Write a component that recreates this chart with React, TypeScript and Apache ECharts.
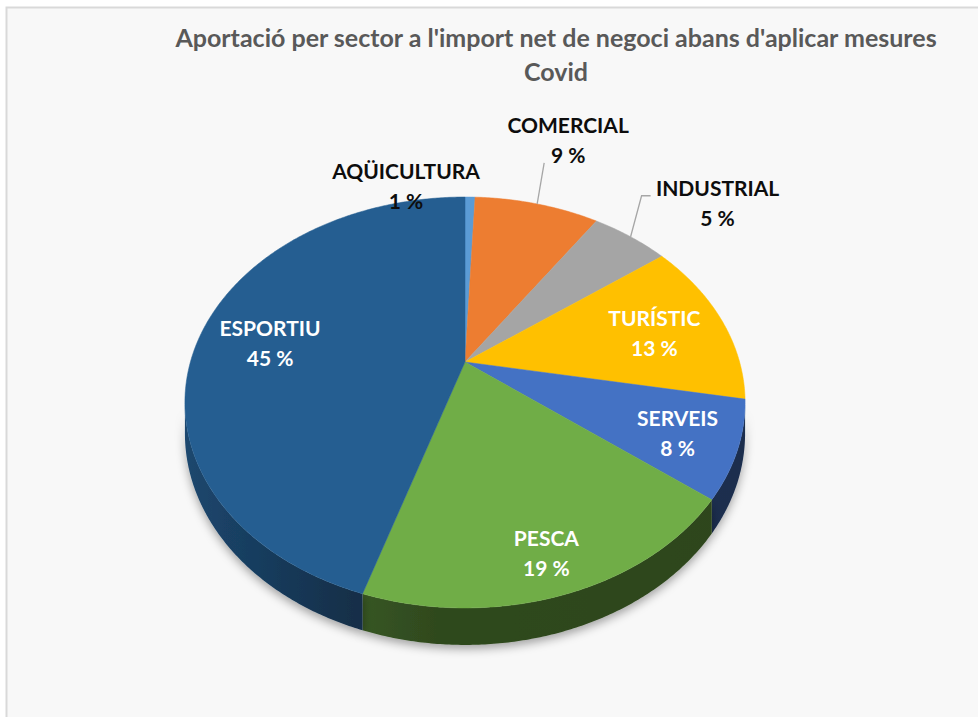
import React, { useEffect, useRef } from "react";
import * as echarts from "echarts";

// ---- data ----
const categories = ["AQÜICULTURA", "COMERCIAL", "INDUSTRIAL", "TURÍSTIC", "SERVEIS", "PESCA", "ESPORTIU"];
const values = [0.7, 8.7, 5.4, 13.1, 7.6, 19.4, 45.1];
const colors = ["#5B9BD5", "#ED7D31", "#A5A5A5", "#FFC000", "#4472C4", "#70AD47", "#255E91"];
const titleText = "Aportació per sector a l'import net de negoci abans d'aplicar mesures\nCovid";

// ---- layout (perspective pie) ----
const CX = 465;
const CY = 362;
const AX = 274.6;
const BY = 197.5;
const K = 0.197;
const DEPTH = 29.7;
const labelOutside = [true, true, true, false, false, false, false];
const labelFrac = [1, 1, 1, 0.74, 0.78, 0.81, 0.74];
const outsideOffset: number[][] = [[-64, -12], [31, -64], [87, -34], [0, 0], [0, 0], [0, 0], [0, 0]];
const leaderPts: number[][][] = [[], [[0, 0], [7, -41]], [[0, 0], [11, -41], [20, -41]], [], [], [], []];

function proj(theta: number, r: number) {
  const X = r * Math.sin(theta);
  const Y = r * Math.cos(theta);
  const D = 1 + K * Y;
  return [CX + (AX * X) / D, CY - (BY * Y) / D];
}
function projBottom(theta: number) {
  const p = proj(theta, 1);
  const D = 1 + K * Math.cos(theta);
  return [p[0], p[1] + DEPTH / D];
}
function shade(hex: string, f: number) {
  const n = parseInt(hex.slice(1), 16);
  const r = Math.round(((n >> 16) & 255) * f);
  const g = Math.round(((n >> 8) & 255) * f);
  const b = Math.round((n & 255) * f);
  return `rgb(${r},${g},${b})`;
}

export default function App() {
  const ref = useRef<HTMLDivElement>(null);
  useEffect(() => {
    if (!ref.current) return;
    const chart = echarts.init(ref.current, null, { renderer: "svg" });
    const total = values.reduce((a, b) => a + b, 0);
    const starts: number[] = [];
    let acc = 0;
    values.forEach((v) => {
      starts.push(acc);
      acc += v;
    });
    const sideMin = Math.acos(-K);
    const sideMax = 2 * Math.PI - sideMin;
    const leftX = CX - AX * 1.02;
    const rightX = CX + AX * 1.02;

    const renderItem = (params: any, api: any) => {
      const i = params.dataIndex;
      const v = api.value(0);
      const a0 = (starts[i] / total) * 2 * Math.PI;
      const a1 = ((starts[i] + v) / total) * 2 * Math.PI;
      const children: any[] = [];
      const step = Math.PI / 360;
      // top face
      const top: number[][] = [[CX, CY]];
      const n = Math.max(2, Math.ceil((a1 - a0) / step));
      for (let j = 0; j <= n; j++) top.push(proj(a0 + ((a1 - a0) * j) / n, 1));
      // side
      const s0 = Math.max(a0, sideMin);
      const s1 = Math.min(a1, sideMax);
      if (s1 > s0) {
        const m = Math.max(2, Math.ceil((s1 - s0) / step));
        const pts: number[][] = [];
        for (let j = 0; j <= m; j++) pts.push(proj(s0 + ((s1 - s0) * j) / m, 1));
        for (let j = m; j >= 0; j--) pts.push(projBottom(s0 + ((s1 - s0) * j) / m));
        children.push({
          type: "polygon",
          z2: 1,
          shape: { points: pts },
          style: {
            fill: {
              type: "linear",
              x: leftX,
              y: 0,
              x2: rightX,
              y2: 0,
              global: true,
              colorStops: [
                { offset: 0, color: shade(colors[i], 0.76) },
                { offset: 0.3, color: shade(colors[i], 0.5) },
                { offset: 0.45, color: shade(colors[i], 0.42) },
                { offset: 1, color: shade(colors[i], 0.4) },
              ],
            },
            shadowBlur: 10,
            shadowColor: "rgba(0,0,0,0.35)",
            shadowOffsetY: 4,
          },
        });
      }
      children.push({
        type: "polygon",
        z2: 10,
        shape: { points: top },
        style: { fill: colors[i], stroke: colors[i], lineWidth: 0.5 },
      });
      const mid = (a0 + a1) / 2;
      const pct = Math.round((v / total) * 100) + " %";
      const txt = categories[i] + "\n" + pct;
      const rim = proj(mid, 1);
      if (labelOutside[i]) {
        const lp = leaderPts[i];
        if (lp.length) {
          children.push({
            type: "polyline",
            z2: 20,
            shape: { points: lp.map((p) => [rim[0] + p[0], rim[1] + p[1]]) },
            style: { stroke: "#a6a6a6", lineWidth: 1.3, fill: "none" },
          });
        }
        children.push({
          type: "text",
          z2: 20,
          style: {
            text: txt,
            x: rim[0] + outsideOffset[i][0],
            y: rim[1] + outsideOffset[i][1],
            align: "center",
            verticalAlign: "middle",
            fill: "#0d0d0d",
            fontFamily: "Lato",
            fontWeight: "bold",
            fontSize: 21,
            lineHeight: 30,
          },
        });
      } else {
        const f = labelFrac[i];
        children.push({
          type: "text",
          z2: 20,
          style: {
            text: txt,
            x: CX + (rim[0] - CX) * f,
            y: CY + (rim[1] - CY) * f + 2,
            align: "center",
            verticalAlign: "middle",
            fill: "#ffffff",
            fontFamily: "Lato",
            fontWeight: "bold",
            fontSize: 21,
            lineHeight: 30,
          },
        });
      }
      return { type: "group", children };
    };

    chart.setOption({
      animation: false,
      backgroundColor: "#ffffff",
      title: {
        text: titleText,
        left: 556,
        top: 20,
        textAlign: "center",
        padding: 0,
        textStyle: {
          fontFamily: "Lato",
          fontWeight: "bold",
          fontSize: 25,
          color: "#595959",
          lineHeight: 34,
        },
      },
      graphic: [
        {
          type: "rect",
          z: -10,
          silent: true,
          shape: { x: 6.5, y: 7.5, width: 1000, height: 720 },
          style: { fill: "#f8f8f8", stroke: "#d9d9d9", lineWidth: 2 },
        },
      ],
      series: [
        {
          type: "custom",
          coordinateSystem: "none",
          renderItem,
          data: values.map((v, i) => ({ value: v, name: categories[i] })),
        },
      ],
    });
    return () => chart.dispose();
  }, []);
  return <div ref={ref} style={{ position: "fixed", left: 0, top: 0, width: 978, height: 717 }} />;
}
